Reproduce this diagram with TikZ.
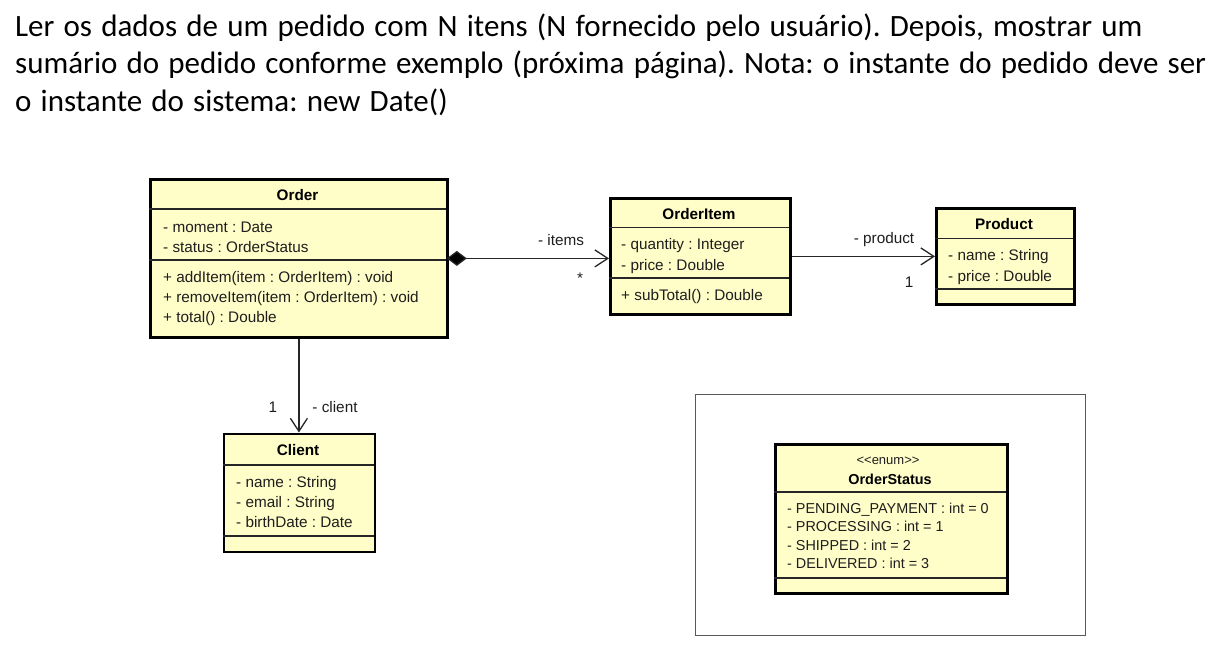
\documentclass[tikz,border=0pt]{standalone}
\usepackage{fontspec}
\setmainfont{Carlito}
\newfontfamily\umlfont{Liberation Sans}
\usetikzlibrary{arrows.meta}
\definecolor{umlfill}{RGB}{255,253,200}
\definecolor{umltext}{RGB}{30,30,30}
\newcommand{\myttl}[1]{\spaceskip=9.2pt plus 0pt minus 0pt #1}
\tikzset{
  classbox/.style={draw=black, line width=2.8pt, fill=umlfill, rectangle, inner sep=0pt, anchor=north west},
  divider/.style={line width=1.4pt, draw=black!85},
  titletext/.style={anchor=base west, inner sep=0pt, font=\fontsize{31}{36}\selectfont},
  attr/.style={anchor=base west, inner sep=0pt, text=umltext, font=\umlfont\fontsize{15.3}{18}\selectfont},
  hdr/.style={anchor=base, inner sep=0pt, text=black, font=\umlfont\bfseries\fontsize{15.3}{18}\selectfont},
  sattr/.style={anchor=base west, inner sep=0pt, text=umltext, font=\umlfont\fontsize{14.4}{18}\selectfont},
  shdr/.style={anchor=base, inner sep=0pt, text=black, font=\umlfont\bfseries\fontsize{14.4}{18}\selectfont},
  lbl/.style={anchor=base, inner sep=0pt, text=umltext, font=\umlfont\fontsize{15.3}{18}\selectfont},
  assoc/.style={line width=1.3pt, draw=black!85},
  openarrow/.style={-{Straight Barb[length=13pt,width=17pt,line width=1.3pt]}},
}
\frenchspacing
\begin{document}
\begin{tikzpicture}[x=1pt,y=-1pt]
\useasboundingbox (0,0) rectangle (1232,668);
\fill[white] (0,0) rectangle (1232,668);

% title
\node[titletext] (t1) at (15,36.5) {\myttl{Ler os dados de um pedido com N itens (N fornecido pelo usuário). Depois, mostrar um}};
\node[titletext] (t2) at (15,74) {\myttl{sumário do pedido conforme exemplo (próxima página). Nota: o instante do pedido deve ser}};
\node[titletext] (t3) at (15,111.5) {\myttl{o instante do sistema: new Date()}};

% Order
\node[classbox, minimum width=297pt, minimum height=158pt] (order) at (149,178) {};
\draw[divider] (149,209) -- (446,209);
\draw[divider] (149,260) -- (446,260);
\node[hdr] (ordert) at (297.5,201) {Order};
\node[attr] (o1) at (163,232.5) {- moment : Date};
\node[attr] (o2) at (163,252.5) {- status : OrderStatus};
\node[attr] (o3) at (163,283) {+ addItem(item : OrderItem) : void};
\node[attr] (o4) at (163,303) {+ removeItem(item : OrderItem) : void};
\node[attr] (o5) at (163,323) {+ total() : Double};

% OrderItem
\node[classbox, minimum width=180pt, minimum height=116pt] (orderitem) at (609,197) {};
\draw[divider] (609,227.5) -- (789,227.5);
\draw[divider] (609,278) -- (789,278);
\node[hdr] (oit) at (699,220) {OrderItem};
\node[attr] (oi1) at (621,250) {- quantity : Integer};
\node[attr] (oi2) at (621,271) {- price : Double};
\node[attr] (oi3) at (621,301) {+ subTotal() : Double};

% Product
\node[classbox, minimum width=138pt, minimum height=96pt] (product) at (935,207) {};
\draw[divider] (935,238.5) -- (1073,238.5);
\draw[divider] (935,289) -- (1073,289);
\node[hdr] (pt) at (1004,230) {Product};
\node[attr] (p1) at (948,261) {- name : String};
\node[attr] (p2) at (948,282) {- price : Double};

% Client
\node[classbox, minimum width=151pt, minimum height=118pt] (client) at (222.5,432.5) {};
\draw[divider] (222.5,465) -- (373.5,465);
\draw[divider] (222.5,536) -- (373.5,536);
\node[hdr] (ct) at (298,455) {Client};
\node[attr] (c1) at (236,487) {- name : String};
\node[attr] (c2) at (236,507) {- email : String};
\node[attr] (c3) at (236,527) {- birthDate : Date};

% frame + OrderStatus
\node[draw=black!65, line width=1.2pt, rectangle, inner sep=0pt, anchor=north west, minimum width=390pt, minimum height=241pt] (frame) at (695,394) {};
\node[classbox, line width=2.6pt, minimum width=232pt, minimum height=149pt] (status) at (774,443) {};
\draw[divider] (774,492) -- (1006,492);
\draw[divider] (774,578) -- (1006,578);
\node[anchor=base, inner sep=0pt, text=umltext, font=\umlfont\fontsize{13}{16}\selectfont] (st0) at (888,464) {<{}<enum>{}>};
\node[shdr] (st) at (890,484) {OrderStatus};
\node[sattr] (s1) at (787,513) {- PENDING\_PAYMENT : int = 0};
\node[sattr] (s2) at (787,531.5) {- PROCESSING : int = 1};
\node[sattr] (s3) at (787,550) {- SHIPPED : int = 2};
\node[sattr] (s4) at (787,568.5) {- DELIVERED : int = 3};

% connectors
\draw[assoc, {Diamond[length=20pt,width=15pt,fill=black]}-{Straight Barb[length=13pt,width=17pt,line width=1.3pt]}] ([xshift=-2pt]order.east) -- (order.east -| orderitem.west);
\node[lbl] (litems) at (561,246) {- items};
\node[lbl] (lstar) at (580,284) {*};

\draw[assoc, openarrow] (orderitem.east) -- (product.west);
\node[lbl] (lprod) at (884,244) {- product};
\node[lbl] (lone1) at (909,288) {1};

\draw[assoc, openarrow] (order.south) -- (order.south |- client.north);
\node[lbl] (lone2) at (273,412) {1};
\node[lbl] (lclient) at (335,412) {- client};
\end{tikzpicture}
\end{document}
